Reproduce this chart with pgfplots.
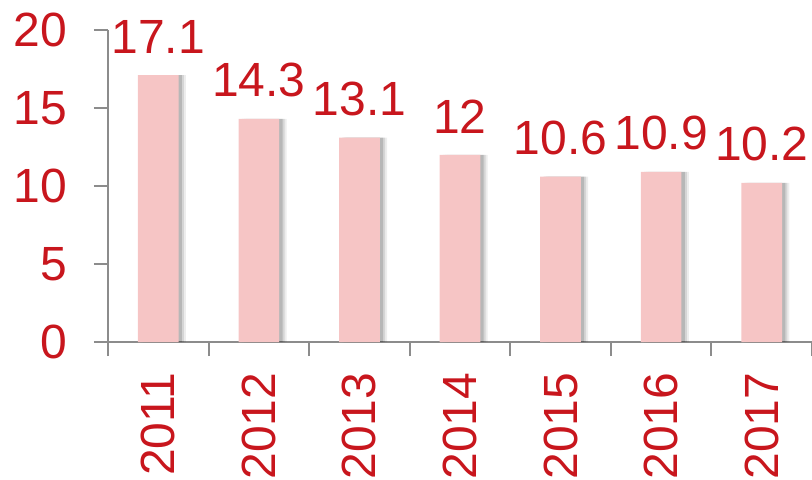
\documentclass[border=0pt]{standalone}
\usepackage{fontspec}
\setmainfont{Liberation Sans}
\usepackage{pgfplots}
\pgfplotsset{compat=1.18}
\definecolor{txtred}{HTML}{C8161D}
\definecolor{barpink}{HTML}{F6C5C5}
\definecolor{axgray}{HTML}{8C8C8C}
\pgfplotstableread{
x y
0 17.1
1 14.3
2 13.1
3 12
4 10.6
5 10.9
6 10.2
}\datatable
\begin{document}
\begin{tikzpicture}
\begin{axis}[
  scale only axis,
  width=528pt, height=234pt,
  xmin=-0.5, xmax=6.5, ymin=0, ymax=20,
  axis x line=bottom, axis y line=left,
  axis line style={-, axgray, line width=1.5pt},
  ytick={0,5,10,15,20},
  xtick={0,...,6},
  xticklabels={2011,2012,2013,2014,2015,2016,2017},
  minor xtick={-0.5,0.5,...,6.5},
  major x tick style={draw=none},
  minor x tick style={axgray, line width=1.5pt},
  y tick style={axgray, line width=1.5pt},
  tick align=outside,
  major tick length=10.5pt,
  minor tick length=10.5pt,
  /pgf/number format/assume math mode=true,
  tick label style={font=\fontsize{36}{42}\selectfont, text=txtred},
  yticklabel style={xshift=-16.5pt},
  xticklabel style={yshift=-9pt, rotate=90, anchor=east},
  ybar, bar width=30.5pt,
  every node near coord/.append style={font=\fontsize{36}{42}\selectfont, text=txtred, inner ysep=16pt},
  clip=false,
]
\addplot[fill=black, fill opacity=0.07, draw=none, bar shift=5.5pt, bar width=30.5pt] table[x=x,y=y] {\datatable};
\addplot[fill=black, fill opacity=0.10, draw=none, bar shift=4pt, bar width=30.5pt] table[x=x,y=y] {\datatable};
\addplot[fill=black, fill opacity=0.14, draw=none, bar shift=2.5pt, bar width=30.5pt] table[x=x,y=y] {\datatable};
\addplot[fill=barpink, draw=none, bar shift=0pt, bar width=30.5pt, nodes near coords]
  table[x=x,y=y] {\datatable};
\end{axis}
\pgfresetboundingbox
\useasboundingbox ([xshift=-81pt, yshift=-102.75pt]current axis.south west) rectangle ([yshift=22.5pt]current axis.north east);
\end{tikzpicture}
\end{document}
